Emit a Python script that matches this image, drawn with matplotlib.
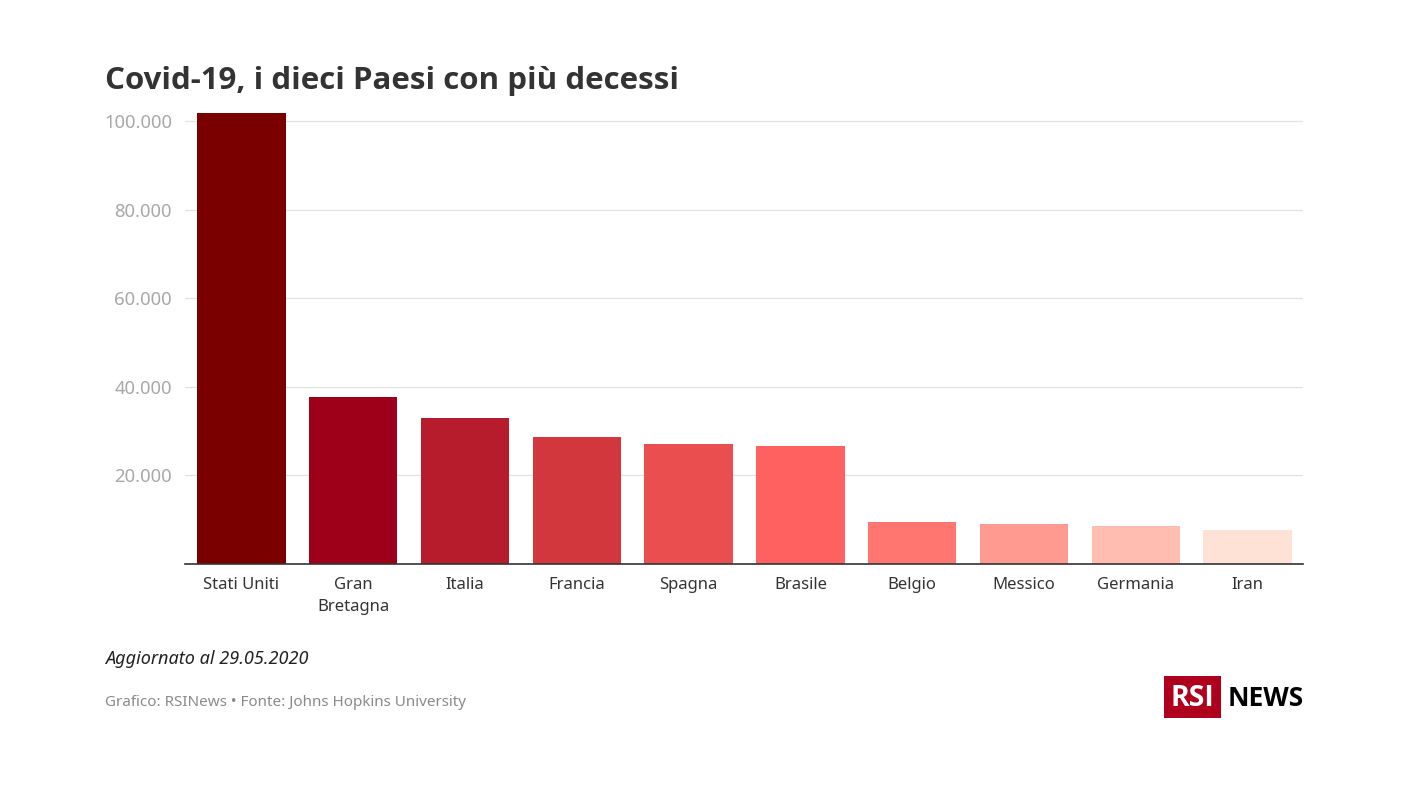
import matplotlib
matplotlib.use('Agg')
import matplotlib.pyplot as plt
from matplotlib.patches import Rectangle

# Dati
paesi = ['Stati Uniti', 'Gran\nBretagna', 'Italia', 'Francia', 'Spagna',
         'Brasile', 'Belgio', 'Messico', 'Germania', 'Iran']
decessi = [101800, 37700, 33000, 28700, 27100, 26700, 9400, 9000, 8500, 7700]
colori = ['#7a0000', '#9e001a', '#b71c2c', '#d3373e', '#ea4e4e',
          '#ff6161', '#ff7570', '#ff9a91', '#ffbdb2', '#ffe2d6']
tacche = [20000, 40000, 60000, 80000, 100000]
etichette = ['20.000', '40.000', '60.000', '80.000', '100.000']

W, H = 1408, 792
plt.rcParams['font.family'] = 'Noto Sans'

fig = plt.figure(figsize=(W / 100, H / 100), dpi=100)

# Area del grafico
sx, dx, alto, basso = 185, 1303, 113, 564
ax = fig.add_axes([sx / W, 1 - basso / H, (dx - sx) / W, (basso - alto) / H])
pos = list(range(len(paesi)))
ax.bar(pos, decessi, width=0.79, color=colori, zorder=3)
ax.set_xlim(-0.505, 9.495)
ax.set_ylim(0, 451 / 4.43 * 1000)

ax.set_yticks(tacche)
ax.set_yticklabels(etichette, fontsize=13.3, color='#a8a8a8')
ax.set_xticks(pos)
ax.set_xticklabels(paesi, fontsize=12, color='#333333', linespacing=1.5)
ax.tick_params(axis='y', length=0, pad=9.4)
ax.tick_params(axis='x', length=0, pad=9.7)
ax.grid(axis='y', color='#e2e2e2', linewidth=0.9, zorder=0)
ax.set_axisbelow(True)
for lato in ['top', 'left', 'right']:
    ax.spines[lato].set_visible(False)
ax.spines['bottom'].set_color('#333333')
ax.spines['bottom'].set_linewidth(1.2)
ax.spines['bottom'].set_zorder(5)

# Titolo e note
fig.text(105 / W, 1 - 81 / H, 'Covid-19, i dieci Paesi con più decessi',
         fontsize=22.5, family='Open Sans', fontweight='bold', color='#333333', va='center')
fig.text(105 / W, 1 - 659.5 / H, 'Aggiornato al 29.05.2020',
         fontsize=13, style='italic', color='#222222', va='center')
fig.text(105 / W, 1 - 702 / H, 'Grafico: RSINews • Fonte: Johns Hopkins University',
         fontsize=10.95, color='#8a8a8a', va='center')

# Logo
fig.add_artist(Rectangle((1164 / W, 1 - 718 / H), 57 / W, 42 / H,
                         transform=fig.transFigure, facecolor='#af001e', edgecolor='none'))
fig.text(1192.5 / W, 1 - 698.5 / H, 'RSI', fontsize=20.5, family='Open Sans', fontweight='bold',
         color='white', ha='center', va='center')
fig.text(1304 / W, 1 - 698.5 / H, 'NEWS', fontsize=19, family='Open Sans', fontweight='bold',
         color='black', ha='right', va='center')

fig.savefig('out.png', dpi=100, facecolor='white')
